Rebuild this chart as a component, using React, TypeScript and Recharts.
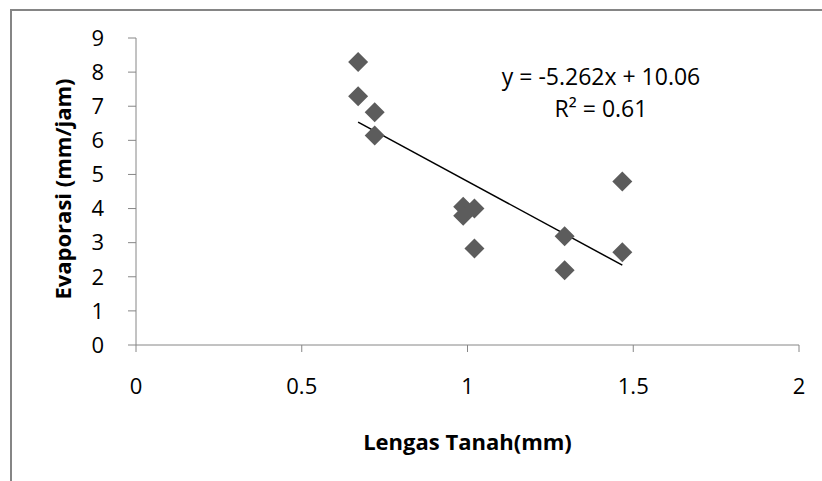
import React from 'react';
import { ScatterChart, Scatter, XAxis, YAxis, ReferenceLine, Label } from 'recharts';

// Lengas tanah (mm) vs evaporasi (mm/jam)
const lengasTanah = [0.67, 0.67, 0.72, 0.72, 0.987, 0.987, 1.021, 1.021, 1.293, 1.293, 1.467, 1.467];
const evaporasi = [8.3, 7.29, 6.82, 6.14, 4.05, 3.79, 4.0, 2.83, 3.19, 2.19, 4.79, 2.72];

const xTicks = [0, 0.5, 1, 1.5, 2];
const yTicks = [0, 1, 2, 3, 4, 5, 6, 7, 8, 9];

// linear trend line shown on the chart
const slope = -5.262;
const intercept = 10.06;

const FONT = '"Open Sans", sans-serif';

const Diamond = (props: any) => {
  const { cx, cy } = props;
  const r = 10;
  return (
    <polygon
      points={`${cx},${cy - r} ${cx + r},${cy} ${cx},${cy + r} ${cx - r},${cy}`}
      fill="#5c5c5c"
    />
  );
};

const App: React.FC = () => {
  const data = lengasTanah.map((x, i) => ({ x, y: evaporasi[i] }));
  const xMin = Math.min(...lengasTanah);
  const xMax = Math.max(...lengasTanah);
  const trend = [
    { x: xMin, y: slope * xMin + intercept },
    { x: xMax, y: slope * xMax + intercept },
  ];

  return (
    <div style={{ position: 'absolute', left: 0, top: 0, width: 822, height: 481, overflow: 'hidden', background: '#fff' }}>
      <div style={{ position: 'absolute', left: 10, top: 9, width: 900, height: 600, border: '2px solid #858585' }} />
      <div style={{ position: 'absolute', left: 0, top: 0 }}>
        <ScatterChart width={822} height={481} margin={{ top: 38, right: 23, bottom: 0, left: 0 }}>
          <XAxis
            type="number"
            dataKey="x"
            domain={[0, 2]}
            ticks={xTicks}
            interval={0}
            height={136}
            stroke="#868686"
            tickSize={7}
            tickMargin={26}
            tick={{ fill: '#000', fontSize: 22, fontFamily: FONT }}
          >
            <Label
              content={({ viewBox }: any) => (
                <text
                  x={viewBox.x + viewBox.width / 2}
                  y={441}
                  textAnchor="middle"
                  dominantBaseline="central"
                  fontFamily={FONT}
                  fontWeight="bold"
                  fontSize={22}
                  fill="#000"
                >
                  Lengas Tanah(mm)
                </text>
              )}
            />
          </XAxis>
          <YAxis
            type="number"
            dataKey="y"
            domain={[0, 9]}
            ticks={yTicks}
            interval={0}
            width={136}
            stroke="#868686"
            tickSize={8}
            tickMargin={24}
            tick={{ fill: '#000', fontSize: 22, fontFamily: FONT }}
          >
            <Label
              content={() => (
                <text
                  x={62}
                  y={189}
                  transform="rotate(-90 62 189)"
                  textAnchor="middle"
                  dominantBaseline="central"
                  fontFamily={FONT}
                  fontWeight="bold"
                  fontSize={22}
                  fill="#000"
                >
                  Evaporasi (mm/jam)
                </text>
              )}
            />
          </YAxis>
          <Scatter data={data} shape={Diamond} isAnimationActive={false} />
          <ReferenceLine
            segment={trend}
            stroke="#000"
            strokeWidth={1.5}
            ifOverflow="visible"
          />
          <g>
            <text x={601} y={76} textAnchor="middle" dominantBaseline="central" fontFamily={FONT} fontSize={23} fill="#000">
              y = -5.262x + 10.06
            </text>
            <text x={601} y={108} textAnchor="middle" dominantBaseline="central" fontFamily={FONT} fontSize={23} fill="#000">
              R² = 0.61
            </text>
          </g>
        </ScatterChart>
      </div>
    </div>
  );
};

export default App;
